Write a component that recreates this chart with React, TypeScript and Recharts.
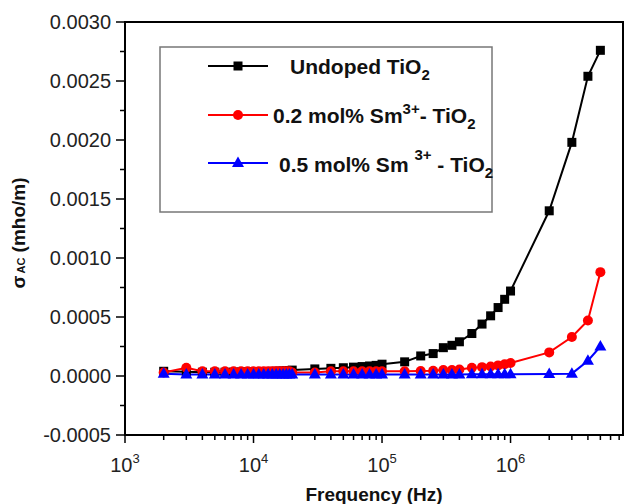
import React from 'react';
import { LineChart, Line, XAxis, YAxis, ReferenceArea, Customized } from 'recharts';

// frequency points (Hz)
const freq = [
  2000, 3000, 4000, 5000, 6000, 7000, 8000, 9000, 10000,
  11000, 12000, 13000, 14000, 15000, 16000, 17000, 18000, 19000, 20000,
  30000, 40000, 50000, 60000, 70000, 80000, 90000, 100000,
  150000, 200000, 250000, 300000, 350000, 400000,
  500000, 600000, 700000, 800000, 900000, 1000000,
  2000000, 3000000, 4000000, 5000000,
];

// sigma AC (mho/m)
const undoped = [
  0.00004, 0.000035, 0.000032, 0.000032, 0.000032, 0.000033, 0.000033, 0.000034, 0.000035,
  0.000036, 0.000037, 0.000038, 0.000039, 0.00004, 0.000041, 0.000042, 0.000043, 0.000045, 0.00005,
  0.00006, 0.000065, 0.00007, 0.000075, 0.00008, 0.000085, 0.00009, 0.0001,
  0.00012, 0.00017, 0.00019, 0.00024, 0.00026, 0.00029,
  0.00036, 0.00044, 0.00051, 0.00058, 0.00065, 0.00072,
  0.0014, 0.00198, 0.00254, 0.00276,
];
const sm02 = [
  0.00003, 0.00007, 0.00004, 0.00004, 0.00004, 0.00004, 0.00004, 0.00004, 0.00004,
  0.00004, 0.00004, 0.00004, 0.00004, 0.00004, 0.00004, 0.00004, 0.00004, 0.00004, 0.00003,
  0.00003, 0.00004, 0.00004, 0.00004, 0.00004, 0.00004, 0.00004, 0.00004,
  0.00004, 0.000042, 0.000045, 0.00005, 0.00005, 0.000055,
  0.00007, 0.000075, 0.00008, 0.00009, 0.0001, 0.00011,
  0.0002, 0.00033, 0.00047, 0.00088,
];
const sm05 = [
  0.00002, 0.000012, 0.000012, 0.000012, 0.000012, 0.000012, 0.000012, 0.000012, 0.000012,
  0.000012, 0.000012, 0.000012, 0.000012, 0.000012, 0.000012, 0.000012, 0.000012, 0.000012, 0.000012,
  0.000012, 0.000012, 0.000012, 0.000012, 0.000012, 0.000012, 0.000012, 0.000012,
  0.000012, 0.000012, 0.000012, 0.000012, 0.000012, 0.000012,
  0.000014, 0.000014, 0.000014, 0.000014, 0.000015, 0.000015,
  0.000017, 0.00002, 0.00013, 0.00025,
];

const xDomain = [1000, 7500000];
const xMajor = [1000, 10000, 100000, 1000000];
const xTicks = xMajor.flatMap((d) => [1, 2, 3, 4, 5, 6, 7, 8, 9].map((m) => d * m)).filter((v) => v <= xDomain[1]);
const yTicks = [-0.0005, -0.00025, 0, 0.00025, 0.0005, 0.00075, 0.001, 0.00125, 0.0015, 0.00175, 0.002, 0.00225, 0.0025, 0.00275, 0.003];

const data = freq.map((f, i) => ({ f, a: undoped[i], b: sm02[i], c: sm05[i] }));

const FONT = '"Liberation Sans", Arial, Helvetica, sans-serif';

function XTick(props: any) {
  const { x, y, payload } = props;
  const v = payload.value;
  const exp = Math.round(Math.log10(v));
  const major = xMajor.includes(v);
  return (
    <g>
      <line x1={x} x2={x} y1={y} y2={y + (major ? 8 : 5)} stroke="#000" strokeWidth={1.5} />
      {major && (
        <text x={x} y={y + 37} textAnchor="middle" fontSize={20} fill="#222" fontFamily={FONT}>
          10<tspan dy={-9} fontSize={13}>{exp}</tspan>
        </text>
      )}
    </g>
  );
}

function YTick(props: any) {
  const { x, y, payload } = props;
  const v = payload.value;
  const major = Math.abs(Math.round(v / 0.0005) * 0.0005 - v) < 1e-9;
  return (
    <g>
      <line x1={x - (major ? 9 : 5)} x2={x} y1={y} y2={y} stroke="#000" strokeWidth={1.5} />
      {major && (
        <text x={x - 14} y={y + 7} textAnchor="end" fontSize={20} fill="#222" fontFamily={FONT}>
          {v.toFixed(4)}
        </text>
      )}
    </g>
  );
}

const square = (p: any) => <rect key={`s${p.index}`} x={p.cx - 4.5} y={p.cy - 4.5} width={9} height={9} fill="#000" />;
const circle = (p: any) => <circle key={`c${p.index}`} cx={p.cx} cy={p.cy} r={5} fill="#ff0000" />;
const triangle = (p: any) => (
  <polygon key={`t${p.index}`} points={`${p.cx},${p.cy - 6.5} ${p.cx + 6},${p.cy + 4} ${p.cx - 6},${p.cy + 4}`} fill="#0000ff" />
);

function Extras() {
  return (
    <g fontFamily={FONT} fill="#111">
      {/* y axis title */}
      <text transform="rotate(-90, 25, 233)" x={25} y={233} textAnchor="middle" fontSize={19} fontWeight="bold">
        σ<tspan fontSize={11} dx={2}>AC</tspan> (mho/m)
      </text>
      {/* x axis title */}
      <text x={374} y={501} textAnchor="middle" fontSize={19} fontWeight="bold">Frequency (Hz)</text>

      {/* legend */}
      <rect x={160} y={47} width={332} height={165} fill="#fff" stroke="#777" strokeWidth={1.5} />
      <line x1={208} x2={268} y1={66} y2={66} stroke="#000" strokeWidth={2} />
      <rect x={233.5} y={61.5} width={9} height={9} fill="#000" />
      <text x={290} y={74} fontSize={21} fontWeight="bold">
        Undoped TiO<tspan dy={6} fontSize={15}>2</tspan>
      </text>

      <line x1={208} x2={268} y1={115} y2={115} stroke="#ff0000" strokeWidth={2} />
      <circle cx={238} cy={115} r={5} fill="#ff0000" />
      <text x={273} y={123} fontSize={21} fontWeight="bold">
        0.2 mol% Sm<tspan dy={-9} fontSize={15}>3+</tspan><tspan dy={9}>- TiO</tspan><tspan dy={6} fontSize={15}>2</tspan>
      </text>

      <line x1={208} x2={268} y1={163} y2={163} stroke="#0000ff" strokeWidth={2} />
      <polygon points="238,156.5 244,167 232,167" fill="#0000ff" />
      <text x={279} y={172} fontSize={21} fontWeight="bold">
        0.5 mol% Sm <tspan dy={-12} fontSize={15}>3+</tspan><tspan dy={12}> - TiO</tspan><tspan dy={6} fontSize={15}>2</tspan>
      </text>
    </g>
  );
}

export default function App() {
  return (
    <div style={{ position: 'absolute', left: 0, top: 0, width: 628, height: 504, background: '#fff' }}>
      <LineChart width={628} height={504} data={data} margin={{ top: 22, right: 5, bottom: 0, left: 0 }}>
        <XAxis
          dataKey="f"
          type="number"
          scale="log"
          domain={xDomain}
          allowDataOverflow
          ticks={xTicks}
          interval={0}
          height={69}
          tickSize={0}
          tickMargin={0}
          tickLine={false}
          tick={<XTick />}
          axisLine={{ stroke: '#000', strokeWidth: 2 }}
        />
        <YAxis
          type="number"
          domain={[-0.0005, 0.003]}
          allowDataOverflow
          ticks={yTicks}
          interval={0}
          width={125}
          tickSize={0}
          tickMargin={0}
          tickLine={false}
          tick={<YTick />}
          axisLine={{ stroke: '#000', strokeWidth: 2 }}
        />
        <ReferenceArea x1={xDomain[0]} x2={xDomain[1]} y1={-0.0005} y2={0.003} fill="none" fillOpacity={0} stroke="#000" strokeWidth={2} />
        <Line dataKey="a" stroke="#000" strokeWidth={2} dot={square} activeDot={false} isAnimationActive={false} />
        <Line dataKey="b" stroke="#ff0000" strokeWidth={2} dot={circle} activeDot={false} isAnimationActive={false} />
        <Line dataKey="c" stroke="#0000ff" strokeWidth={2} dot={triangle} activeDot={false} isAnimationActive={false} />
        <Customized component={<Extras />} />
      </LineChart>
    </div>
  );
}
